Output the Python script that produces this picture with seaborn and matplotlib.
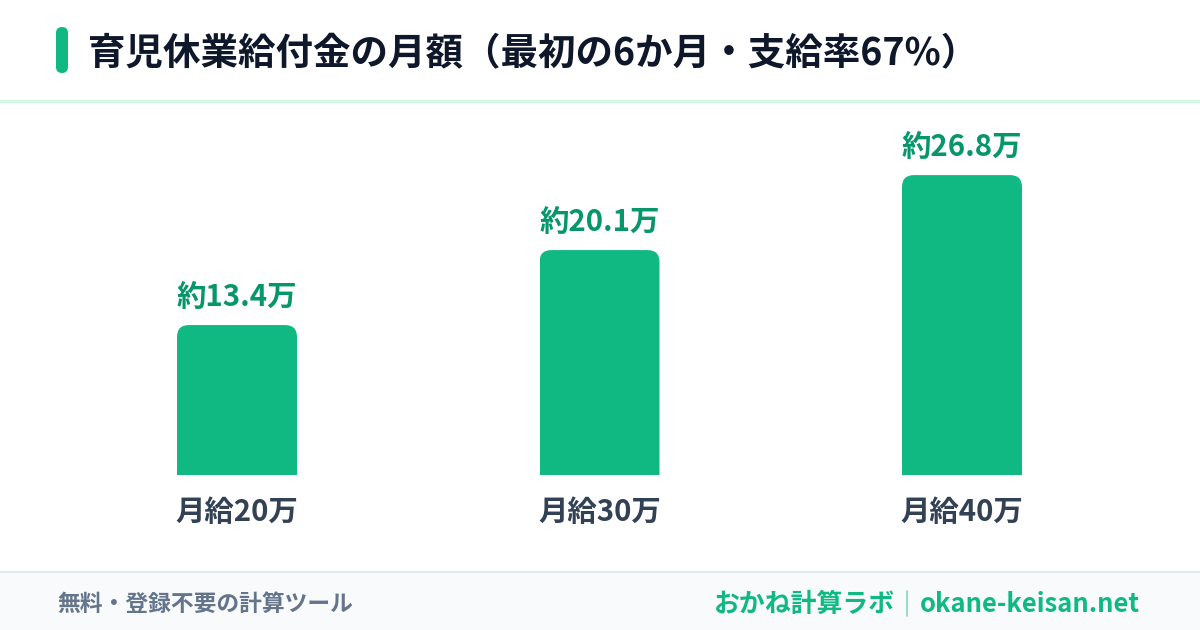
import matplotlib
matplotlib.use("Agg")
import matplotlib.pyplot as plt
import seaborn as sns
import pandas as pd
from matplotlib.patches import FancyBboxPatch, Rectangle
from matplotlib.lines import Line2D

# ---- data ----
categories = ["月給20万", "月給30万", "月給40万"]
values = [13.4, 20.1, 26.8]
value_labels = ["約13.4万", "約20.1万", "約26.8万"]
title = "育児休業給付金の月額（最初の6か月・支給率67%）"
footer_left = "無料・登録不要の計算ツール"
footer_brand = "おかね計算ラボ"
footer_url = "okane-keisan.net"

sns.set_theme(style="white")
plt.rcParams["font.family"] = ["Noto Sans CJK JP", "DejaVu Sans"]

W, H = 1200, 630
fig = plt.figure(figsize=(W / 100, H / 100), dpi=100)
fig.patch.set_facecolor("white")

BAR = "#10b981"
LABEL = "#059669"
DARK = "#0f172a"
XLAB = "#334155"
GRAY = "#64748b"

# plot area: bar centers at 237, 600, 962 px; baseline at y=475 px from top
spacing = 362.5
x0 = 237
baseline = H - 475
ppu = 11.19  # pixels per unit
ytop = 30
ax = fig.add_axes([0, baseline / H, 1, ytop * ppu / H])
df = pd.DataFrame({"cat": categories, "val": values})
sns.barplot(data=df, x="cat", y="val", color=BAR, saturation=1,
            width=120 / spacing, ax=ax, linewidth=0)
ax.set_xlim(-x0 / spacing, (W - x0) / spacing)
ax.set_ylim(0, ytop)
ax.axis("off")

# rounded top corners
r_px = 12
rx = r_px / spacing
ry = r_px / ppu
for p in ax.patches:
    x, w, h = p.get_x(), p.get_width(), p.get_height()
    clip = FancyBboxPatch((x, -3), w, h + 3,
                          boxstyle=f"round,pad=0,rounding_size={rx}",
                          mutation_aspect=ry / rx, transform=ax.transData)
    p.set_clip_path(clip)
    p.set_facecolor(BAR)
    p.set_edgecolor("none")

for i, (v, lab, cat) in enumerate(zip(values, value_labels, categories)):
    ax.annotate(lab, xy=(i, v), xytext=(0, 28), textcoords="offset pixels",
                ha="center", va="center", fontsize=21.2, fontweight="bold",
                color=LABEL, annotation_clip=False)
    ax.annotate(cat, xy=(i, 0), xytext=(0, -37), textcoords="offset pixels",
                ha="center", va="center", fontsize=21.2, fontweight="bold",
                color=XLAB, annotation_clip=False)

# header
fig.patches.append(FancyBboxPatch((56 / W, (H - 73) / H), 12 / W, 46 / H,
                                  boxstyle="round,pad=0,rounding_size=0.005",
                                  mutation_aspect=W / H,
                                  transform=fig.transFigure, facecolor=BAR,
                                  edgecolor="none"))
fig.text(88 / W, (H - 54) / H, title, ha="left", va="center", fontsize=27,
         fontweight="bold", color=DARK)
fig.patches.append(Rectangle((0, (H - 103) / H), 1, 3 / H, transform=fig.transFigure,
                             facecolor="#d1fae5", edgecolor="none"))

# footer
fig.patches.append(Rectangle((0, 0), 1, (H - 572) / H, transform=fig.transFigure,
                             facecolor="#f8fafc", edgecolor="none"))
fig.patches.append(Rectangle((0, (H - 573) / H), 1, 2 / H, transform=fig.transFigure,
                             facecolor="#e2e8f0", edgecolor="none"))
fy = (H - 604) / H
fig.text(57 / W, fy, footer_left, ha="left", va="center", fontsize=16.4,
         fontweight="bold", color=GRAY)
fig.text(1140 / W, fy, footer_url, ha="right", va="center", fontsize=18.4,
         fontweight="bold", color=BAR)
fig.text(895 / W, fy, footer_brand, ha="right", va="center", fontsize=18.6,
         fontweight="bold", color=BAR)
fig.lines.append(Line2D([907 / W, 907 / W], [(H - 616) / H, (H - 591) / H],
                        transform=fig.transFigure, color="#86d9b8", linewidth=1.2))

fig.savefig("out.png", dpi=100, facecolor="white")
